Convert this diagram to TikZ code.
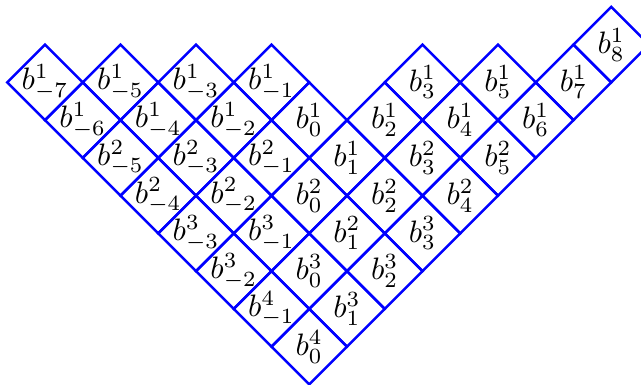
\documentclass[tikz,border=0pt]{standalone}
\usepackage{graphicx}
\begin{document}
\begin{tikzpicture}[x=1pt,y=-1pt,
  cellline/.style={draw=blue, line width=2.5pt, line join=miter},
  lab/.style={inner sep=0pt}]
\clip (0,0) rectangle (641,384);
\def\hs{37.75}
\foreach \cx/\rw/\up/\dn in {
  15/0/1/8,
  0/1/1/-7, 2/1/1/-5, 4/1/1/-3, 6/1/1/-1, 10/1/1/3, 12/1/1/5, 14/1/1/7,
  1/2/1/-6, 3/2/1/-4, 5/2/1/-2, 7/2/1/0, 9/2/1/2, 11/2/1/4, 13/2/1/6,
  2/3/2/-5, 4/3/2/-3, 6/3/2/-1, 8/3/1/1, 10/3/2/3, 12/3/2/5,
  3/4/2/-4, 5/4/2/-2, 7/4/2/0, 9/4/2/2, 11/4/2/4,
  4/5/3/-3, 6/5/3/-1, 8/5/2/1, 10/5/3/3,
  5/6/3/-2, 7/6/3/0, 9/6/3/2,
  6/7/4/-1, 8/7/3/1,
  7/8/4/0}
{
  \node[lab] (c\cx-\rw) at ({45+\hs*\cx},{82.3+\hs*(\rw-1)}) {\scalebox{3.1}{$b^{\up}_{\dn}$}};
  \draw[cellline] (c\cx-\rw.center) +(-\hs,0) -- +(0,-\hs) -- +(\hs,0) -- +(0,\hs) -- cycle;
}
\end{tikzpicture}
\end{document}
